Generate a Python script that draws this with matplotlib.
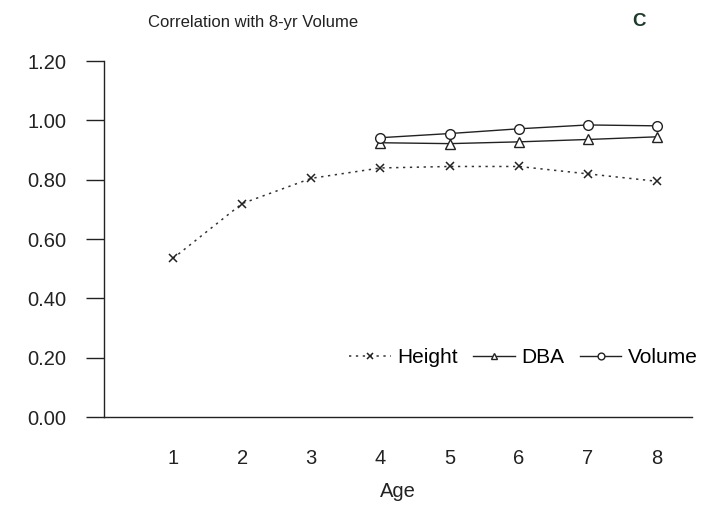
import numpy as np
import matplotlib.pyplot as plt

plt.rcParams['font.family'] = ['Liberation Sans', 'DejaVu Sans']

# ---- data ----
age = [1, 2, 3, 4, 5, 6, 7, 8]
height = [0.535, 0.72, 0.805, 0.84, 0.845, 0.845, 0.82, 0.795]
age_dba = [4, 5, 6, 7, 8]
dba = [0.925, 0.922, 0.928, 0.936, 0.945]
volume = [0.942, 0.956, 0.972, 0.985, 0.982]
yticks = [0.0, 0.2, 0.4, 0.6, 0.8, 1.0, 1.2]

# ---- figure ----
fig = plt.figure(figsize=(7.16, 5.32), dpi=100)
ax = fig.add_axes([0.145, 0.216, 0.821, 0.669])

ax.plot(age, height, ls=(0, (1.5, 3)), color='#333333', lw=1.1,
        marker='x', ms=6, mew=1.1, mec='#222222', label='Height')
ax.plot(age_dba, dba, ls='-', color='#222222', lw=1.0,
        marker='^', ms=7, mfc='white', mec='#222222', mew=1.0, label='DBA')
ax.plot(age_dba, volume, ls='-', color='#222222', lw=1.0,
        marker='o', ms=7, mfc='white', mec='#222222', mew=1.0, label='Volume')

ax.set_xlim(0, 8.5)
ax.set_ylim(0, 1.2)
ax.set_xticks(age)
ax.set_yticks(yticks)
ax.set_yticklabels(['%.2f' % v for v in yticks])

ax.spines['top'].set_visible(False)
ax.spines['right'].set_visible(False)
for s in ('left', 'bottom'):
    ax.spines[s].set_color('#222222')
    ax.spines[s].set_linewidth(1.0)

ax.tick_params(axis='x', length=0, pad=23, labelsize=14.5, colors='#222222')
ax.tick_params(axis='y', direction='out', length=13, width=1.0,
               pad=14, labelsize=14.5, colors='#222222')

ax.set_xlabel('Age', fontsize=14.5, labelpad=10, color='#222222')

fig.text(148 / 716, 1 - 22 / 532, 'Correlation with 8-yr Volume',
         fontsize=12, va='center', ha='left', color='#222222')
fig.text(639 / 716, 1 - 22 / 532, 'C', fontsize=13.5, fontweight='bold',
         va='center', ha='center', color='#1e3a2c')

leg = ax.legend(loc='center right', ncol=3, frameon=False, fontsize=15,
                handlelength=2.0, handletextpad=0.3, columnspacing=0.75,
                markerscale=0.7)
leg.set_bbox_to_anchor((1.042, 0.167), transform=ax.transAxes)

fig.savefig('out.png', dpi=100)
